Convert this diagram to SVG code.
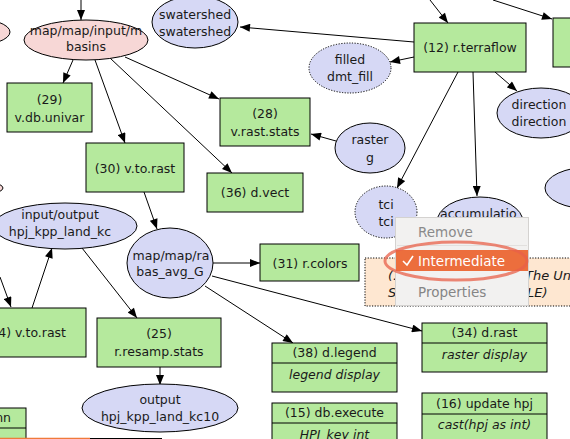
<svg xmlns="http://www.w3.org/2000/svg" width="570" height="439" viewBox="0 0 570 439">
<defs>
<marker id="ah" viewBox="0 0 10 8" refX="10" refY="4" markerWidth="11" markerHeight="8" markerUnits="userSpaceOnUse" orient="auto">
<path d="M0,0 L10,4 L0,8 z" fill="#000"/>
</marker>
<style>
text{font-family:"DejaVu Sans","Liberation Sans",sans-serif;font-size:12.5px;fill:#1a1a1a;text-anchor:middle}
.act{fill:#b5e99d;stroke:#000;stroke-width:1}
.dat{fill:#d6d8f5;stroke:#000;stroke-width:1}
.inp{fill:#f7d7d6;stroke:#000;stroke-width:1}
.tmp{fill:#d6d8f5;stroke:#000;stroke-width:1;stroke-dasharray:1.2 1.5}
.it{font-style:italic}
.e{stroke:#000;stroke-width:1;fill:none;marker-end:url(#ah)}
.l{stroke:#000;stroke-width:1;fill:none}
.menu{font-size:13.5px;text-anchor:start}
</style>
</defs>
<rect x="0" y="0" width="570" height="439" fill="#fff"/>

<g id="connectors">
<line class="e" x1="81" y1="0" x2="81" y2="20"/>
<line class="e" x1="73" y1="60" x2="63" y2="83"/>
<line class="e" x1="95" y1="60" x2="125" y2="143"/>
<line class="e" x1="110" y1="58" x2="232" y2="173"/>
<line class="e" x1="125" y1="57" x2="219" y2="99"/>
<line class="e" x1="414" y1="42" x2="240" y2="27"/>
<line class="e" x1="414" y1="57" x2="390" y2="62"/>
<line class="e" x1="430" y1="0" x2="448" y2="23"/>
<line class="e" x1="493" y1="0" x2="552" y2="19"/>
<line class="e" x1="495" y1="72" x2="517" y2="91"/>
<line class="e" x1="458" y1="72" x2="397" y2="188"/>
<line class="e" x1="473" y1="72" x2="477" y2="196"/>
<line class="e" x1="336" y1="141" x2="311" y2="134"/>
<line class="e" x1="144" y1="192" x2="157" y2="229"/>
<line class="e" x1="213" y1="263" x2="260" y2="263"/>
<line class="e" x1="212" y1="276" x2="422" y2="331"/>
<line class="e" x1="205" y1="286" x2="293" y2="343"/>
<line class="e" x1="0" y1="277" x2="11" y2="307"/>
<line class="e" x1="32" y1="308" x2="52" y2="248"/>
<line class="e" x1="82" y1="248" x2="137" y2="318"/>
<line class="e" x1="160" y1="367" x2="160" y2="385"/>
</g>

<g id="n-left-pink"><ellipse class="inp" cx="-30" cy="32" rx="40" ry="14"/></g>
<g id="n-left-pink2"><ellipse class="inp" cx="-40" cy="188" rx="43" ry="9"/></g>

<g id="n-basins">
<ellipse class="inp" cx="86" cy="40" rx="62" ry="20"/>
<text x="86" y="34.5">map/map/input/m</text>
<text x="86" y="50.5">basins</text>
</g>

<g id="n-swatershed">
<ellipse class="dat" cx="195" cy="22" rx="43" ry="26"/>
<text x="195" y="18.5">swatershed</text>
<text x="195" y="35.5">swatershed</text>
</g>

<g id="n-terraflow">
<rect class="act" x="414" y="23" width="112" height="49"/>
<text x="470" y="51.5">(12) r.terraflow</text>
</g>

<g id="n-right-box"><rect class="act" x="553" y="18" width="40" height="49"/></g>

<g id="n-filled">
<ellipse class="tmp" cx="350" cy="68" rx="41" ry="25"/>
<text x="350" y="63.5">filled</text>
<text x="350" y="80.5">dmt_fill</text>
</g>

<g id="n-univar">
<rect class="act" x="7" y="83" width="85" height="49"/>
<text x="49.5" y="103.5">(29)</text>
<text x="49.5" y="121.5">v.db.univar</text>
</g>

<g id="n-rast-stats">
<rect class="act" x="220" y="98" width="90" height="48"/>
<text x="265" y="117.5">(28)</text>
<text x="265" y="135.5">v.rast.stats</text>
</g>

<g id="n-direction">
<ellipse class="dat" cx="541" cy="113" rx="44" ry="25"/>
<text x="539" y="108.5">direction</text>
<text x="539" y="125.5">direction</text>
</g>

<g id="n-raster">
<ellipse class="dat" cx="370" cy="148" rx="35" ry="25"/>
<text x="370" y="143.5">raster</text>
<text x="370" y="161.5">g</text>
</g>

<g id="n-vtorast30">
<rect class="act" x="86" y="143" width="98" height="49"/>
<text x="135" y="172.5">(30) v.to.rast</text>
</g>

<g id="n-dvect">
<rect class="act" x="207" y="173" width="96" height="39"/>
<text x="255" y="196.5">(36) d.vect</text>
</g>

<g id="n-tci">
<ellipse class="tmp" cx="386" cy="212" rx="31" ry="26"/>
<text x="386" y="208.5">tci</text>
<text x="386" y="225.5">tci</text>
</g>

<g id="n-accum">
<ellipse class="dat" cx="480" cy="222" rx="43" ry="25"/>
<text x="440" y="218" style="text-anchor:start">accumulatio</text>
</g>

<g id="n-right-ellipse"><ellipse class="dat" cx="590" cy="188" rx="45" ry="21"/></g>

<g id="n-inout">
<ellipse class="dat" cx="65" cy="226" rx="72" ry="23"/>
<text x="60" y="218.5">input/output</text>
<text x="60" y="235.5">hpj_kpp_land_kc</text>
</g>

<g id="n-basavg">
<ellipse class="dat" cx="170" cy="263" rx="43" ry="35"/>
<text x="171" y="259.5">map/map/ra</text>
<text x="170" y="275.5">bas_avg_G</text>
</g>

<g id="n-rcolors">
<rect class="act" x="260" y="244" width="99" height="37"/>
<text x="310" y="267.5">(31) r.colors</text>
</g>

<g id="n-comment">
<rect x="365" y="258" width="215" height="48" fill="#fee7d1" stroke="#000" stroke-width="1" stroke-dasharray="1.2 1.5"/>
<text class="it" x="388" y="280" style="text-anchor:start;font-size:13px">(.</text>
<text class="it" x="525" y="280" style="text-anchor:start;font-size:13px">The Uni</text>
<text class="it" x="388" y="297" style="text-anchor:start;font-size:13px">S</text>
<text class="it" x="527" y="297" style="text-anchor:start;font-size:13px">LE)</text>
</g>

<g id="n-vtorast4">
<rect class="act" x="-15" y="308" width="101" height="49"/>
<text x="66" y="337" style="text-anchor:end">4) v.to.rast</text>
</g>

<g id="n-resamp">
<rect class="act" x="97" y="318" width="124" height="49"/>
<text x="159" y="337.5">(25)</text>
<text x="159" y="355.5">r.resamp.stats</text>
</g>

<g id="n-drast">
<rect class="act" x="422" y="323" width="125" height="49"/>
<line class="l" x1="422" y1="343" x2="547" y2="343"/>
<text x="484.5" y="337">(34) d.rast</text>
<text class="it" x="484.5" y="358.5">raster display</text>
</g>

<g id="n-dlegend">
<rect class="act" x="272" y="343" width="125" height="49"/>
<line class="l" x1="272" y1="363" x2="397" y2="363"/>
<text x="334.5" y="357">(38) d.legend</text>
<text class="it" x="334.5" y="378.5">legend display</text>
</g>

<g id="n-output">
<ellipse class="dat" cx="160" cy="408" rx="78" ry="24"/>
<text x="160" y="403.5">output</text>
<text x="160" y="420.5">hpj_kpp_land_kc10</text>
</g>

<g id="n-nn">
<rect class="act" x="-20" y="408" width="46" height="40"/>
<line class="l" x1="-20" y1="428" x2="26" y2="428"/>
<text x="11" y="421.5" style="text-anchor:end">nn</text>
</g>

<g id="n-dbexec">
<rect class="act" x="272" y="403" width="125" height="50"/>
<line class="l" x1="272" y1="423" x2="397" y2="423"/>
<text x="334.5" y="416.5">(15) db.execute</text>
<text class="it" x="334.5" y="439">HPJ_key int</text>
</g>

<g id="n-update">
<rect class="act" x="422" y="393" width="125" height="50"/>
<line class="l" x1="422" y1="414" x2="547" y2="414"/>
<text x="484.5" y="407.5">(16) update hpj</text>
<text class="it" x="484.5" y="428.5">cast(hpj as int)</text>
</g>

<g id="n-bottom">
<line x1="0" y1="438.5" x2="90" y2="438.5" stroke="#f07a3a" stroke-width="1.5"/>
<line x1="90" y1="438.5" x2="162" y2="438.5" stroke="#000" stroke-width="1"/>
</g>

<g id="popup">
<rect x="395.5" y="217.5" width="133" height="88" fill="#f2f1f0" stroke="#d4d2d0" stroke-width="1"/>
<text class="menu" x="418" y="237" fill="#8a8a8a" style="fill:#8a8a8a">Remove</text>
<line x1="397" y1="245.5" x2="527" y2="245.5" stroke="#e2e0de" stroke-width="1"/>
<rect x="396" y="250" width="132" height="21" fill="#ec6e3d"/>
<path d="M403,261 L407,265 L413,256" stroke="#fff" stroke-width="1.6" fill="none"/>
<text class="menu" x="418" y="266" style="fill:#ffffff">Intermediate</text>
<text class="menu" x="418" y="297" style="fill:#858585">Properties</text>
<ellipse cx="456" cy="261" rx="71" ry="19" fill="none" stroke="#e8604a" stroke-width="3" opacity="0.75"/>
</g>
</svg>
